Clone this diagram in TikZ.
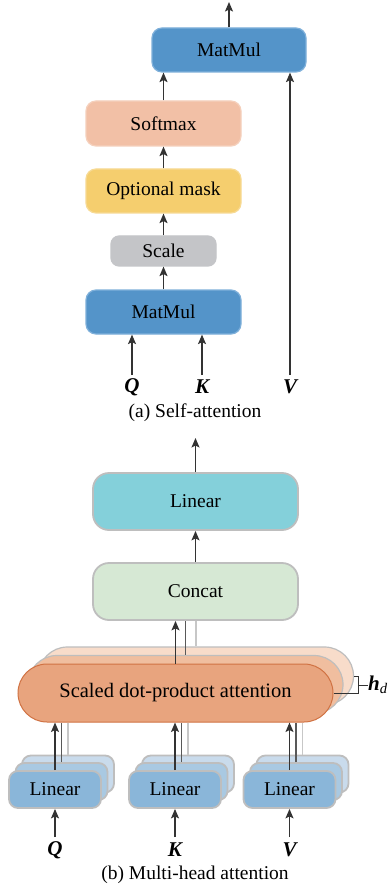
\documentclass[tikz,border=0pt]{standalone}
\usepackage{fontspec}
\setmainfont{Liberation Serif}
\usetikzlibrary{arrows.meta}
\definecolor{mmblue}{HTML}{5494C9}
\definecolor{mmborder}{HTML}{7FB0DA}
\definecolor{smfill}{HTML}{F2C0A6}
\definecolor{smborder}{HTML}{F5D0BC}
\definecolor{omfill}{HTML}{F5CE6E}
\definecolor{omborder}{HTML}{F7DA94}
\definecolor{scfill}{HTML}{C4C5C8}
\definecolor{cyanfill}{HTML}{84D0DA}
\definecolor{concatfill}{HTML}{D6E8D4}
\definecolor{grayborder}{HTML}{BEBEBE}
\definecolor{sdfill}{HTML}{E8A47E}
\definecolor{sdborder}{HTML}{D07243}
\definecolor{sdfillB}{HTML}{F0BE9F}
\definecolor{sdfillC}{HTML}{F8DCCA}
\definecolor{linfill}{HTML}{8AB6D9}
\definecolor{linfillB}{HTML}{A9C9E2}
\definecolor{linfillC}{HTML}{C9DBEC}
\begin{document}
\begin{tikzpicture}[x=1pt,y=-1pt,
  box/.style={rectangle, rounded corners=10pt, inner sep=0pt, line width=1.2pt,
    font=\fontsize{19.5}{22}\selectfont},
  gbox/.style={box, draw=grayborder, line width=1.8pt},
  arr/.style={-{Stealth[length=9.5pt,width=8pt,inset=2pt]}, line width=1.3pt, draw=black!80},
  lineB/.style={line width=1.2pt, draw=black!65},
  lineC/.style={line width=1.2pt, draw=black!22},
  lbl/.style={font=\fontsize{21}{22}\selectfont\bfseries\itshape, inner sep=0pt},
  captxt/.style={font=\fontsize{19.5}{22}\selectfont, inner sep=0pt}]
\useasboundingbox[fill=white] (0,0) rectangle (389,890);

% ---------- (a) Self-attention ----------
\node[box, fill=mmblue, draw=mmborder, minimum width=154pt, minimum height=44pt] (mm2) at (229,50) {MatMul};
\node[box, fill=smfill, draw=smborder, minimum width=155pt, minimum height=45pt] (sm) at (163.5,123.5) {Softmax};
\node[box, fill=omfill, draw=omborder, minimum width=155pt, minimum height=44pt] (om) at (163.5,191) {Optional mask};
\node[box, rounded corners=8pt, fill=scfill, draw=scfill, minimum width=105pt, minimum height=30pt] (sc) at (163.5,251) {Scale};
\node[box, fill=mmblue, draw=mmborder, minimum width=155pt, minimum height=44pt] (mm1) at (163.5,312) {MatMul};

\node[lbl] (qa) at (132,387) {Q};
\node[lbl] (ka) at (202,387) {K};
\node[lbl] (va) at (290,387) {V};
\coordinate (qat) at (132,375);
\coordinate (kat) at (202,375);
\coordinate (vat) at (290,375);
\coordinate (outa) at (229,2);

\draw[arr] (qat) -- (qat |- mm1.south);
\draw[arr] (kat) -- (kat |- mm1.south);
\draw[arr] (mm1.north) -- (sc.south);
\draw[arr] (sc.north) -- (om.south);
\draw[arr] (om.north) -- (sm.south);
\draw[arr] (sm.north) -- (sm.north |- mm2.south);
\draw[arr] (vat) -- (vat |- mm2.south);
\draw[arr] (mm2.north) -- (outa);

\node[captxt] (capa) at (195,413) {(a) Self-attention};

% ---------- (b) Multi-head attention ----------
\node[gbox, rounded corners=16pt, fill=cyanfill, minimum width=205pt, minimum height=57pt] (lin) at (195.5,501.5) {Linear};
\node[gbox, rounded corners=16pt, fill=concatfill, minimum width=205pt, minimum height=57pt] (cc) at (195.5,591.5) {Concat};
\coordinate (outb) at (195.5,438);

\node[box, rounded corners=29pt, fill=sdfillC, draw=grayborder, minimum width=315pt, minimum height=58pt] (s3) at (196,676) {};
\node[box, rounded corners=29pt, fill=sdfillB, draw=grayborder, minimum width=315pt, minimum height=58pt] (s2) at (185.5,684.5) {};
\node[box, rounded corners=29pt, fill=sdfill, draw=sdborder, line width=1pt, minimum width=315pt, minimum height=58pt, font=\fontsize{20.5}{22}\selectfont] (sf) at (175.5,693) {Scaled dot-product attention};

\foreach \n/\cx in {q/55, k/175, v/289.5}{
  \node[gbox, rounded corners=9pt, fill=linfillC, minimum width=92pt, minimum height=37pt] (l\n3) at (\cx+13,774) {};
  \node[gbox, rounded corners=9pt, fill=linfillB, minimum width=92pt, minimum height=37pt] (l\n2) at (\cx+6.5,781.5) {};
  \node[gbox, rounded corners=9pt, fill=linfill, minimum width=92pt, minimum height=37pt] (l\n) at (\cx,789.5) {Linear};
  \draw[lineC] (l\n3.north) -- (l\n3.north |- sf.south);
  \draw[lineB] (l\n2.north) -- (l\n2.north |- sf.south);
  \draw[arr] (l\n.north) -- (l\n.north |- sf.south);
}

\node[lbl] (qb) at (55,850) {Q};
\node[lbl] (kb) at (175,850) {K};
\node[lbl] (vb) at (289.5,850) {V};
\coordinate (qbt) at (55,837);
\coordinate (kbt) at (175,837);
\coordinate (vbt) at (289.5,837);
\draw[arr] (qbt) -- (lq.south);
\draw[arr] (kbt) -- (lk.south);
\draw[arr] (vbt) -- (lv.south);

\draw[lineC] (s3.north) -- (s3.north |- cc.south);
\draw[lineB] (s2.north) -- (s2.north |- cc.south);
\draw[arr] (sf.north) -- (sf.north |- cc.south);
\draw[arr] (cc.north) -- (lin.south);
\draw[arr] (lin.north) -- (outb);

% h_d bracket
\draw[line width=1pt, black!80] (sf.east) -- ++(25,0) coordinate (br) |- (s3.east);
\draw[line width=1pt, black!80] (358,685) -- (368,685) coordinate (hdt);
\node[anchor=west, inner sep=0pt, font=\fontsize{21}{22}\selectfont] (hd) at (hdt) {\textbf{\textit{h}}\textsubscript{\textit{d}}};

\node[captxt] (capb) at (195,875) {(b) Multi-head attention};
\end{tikzpicture}
\end{document}
